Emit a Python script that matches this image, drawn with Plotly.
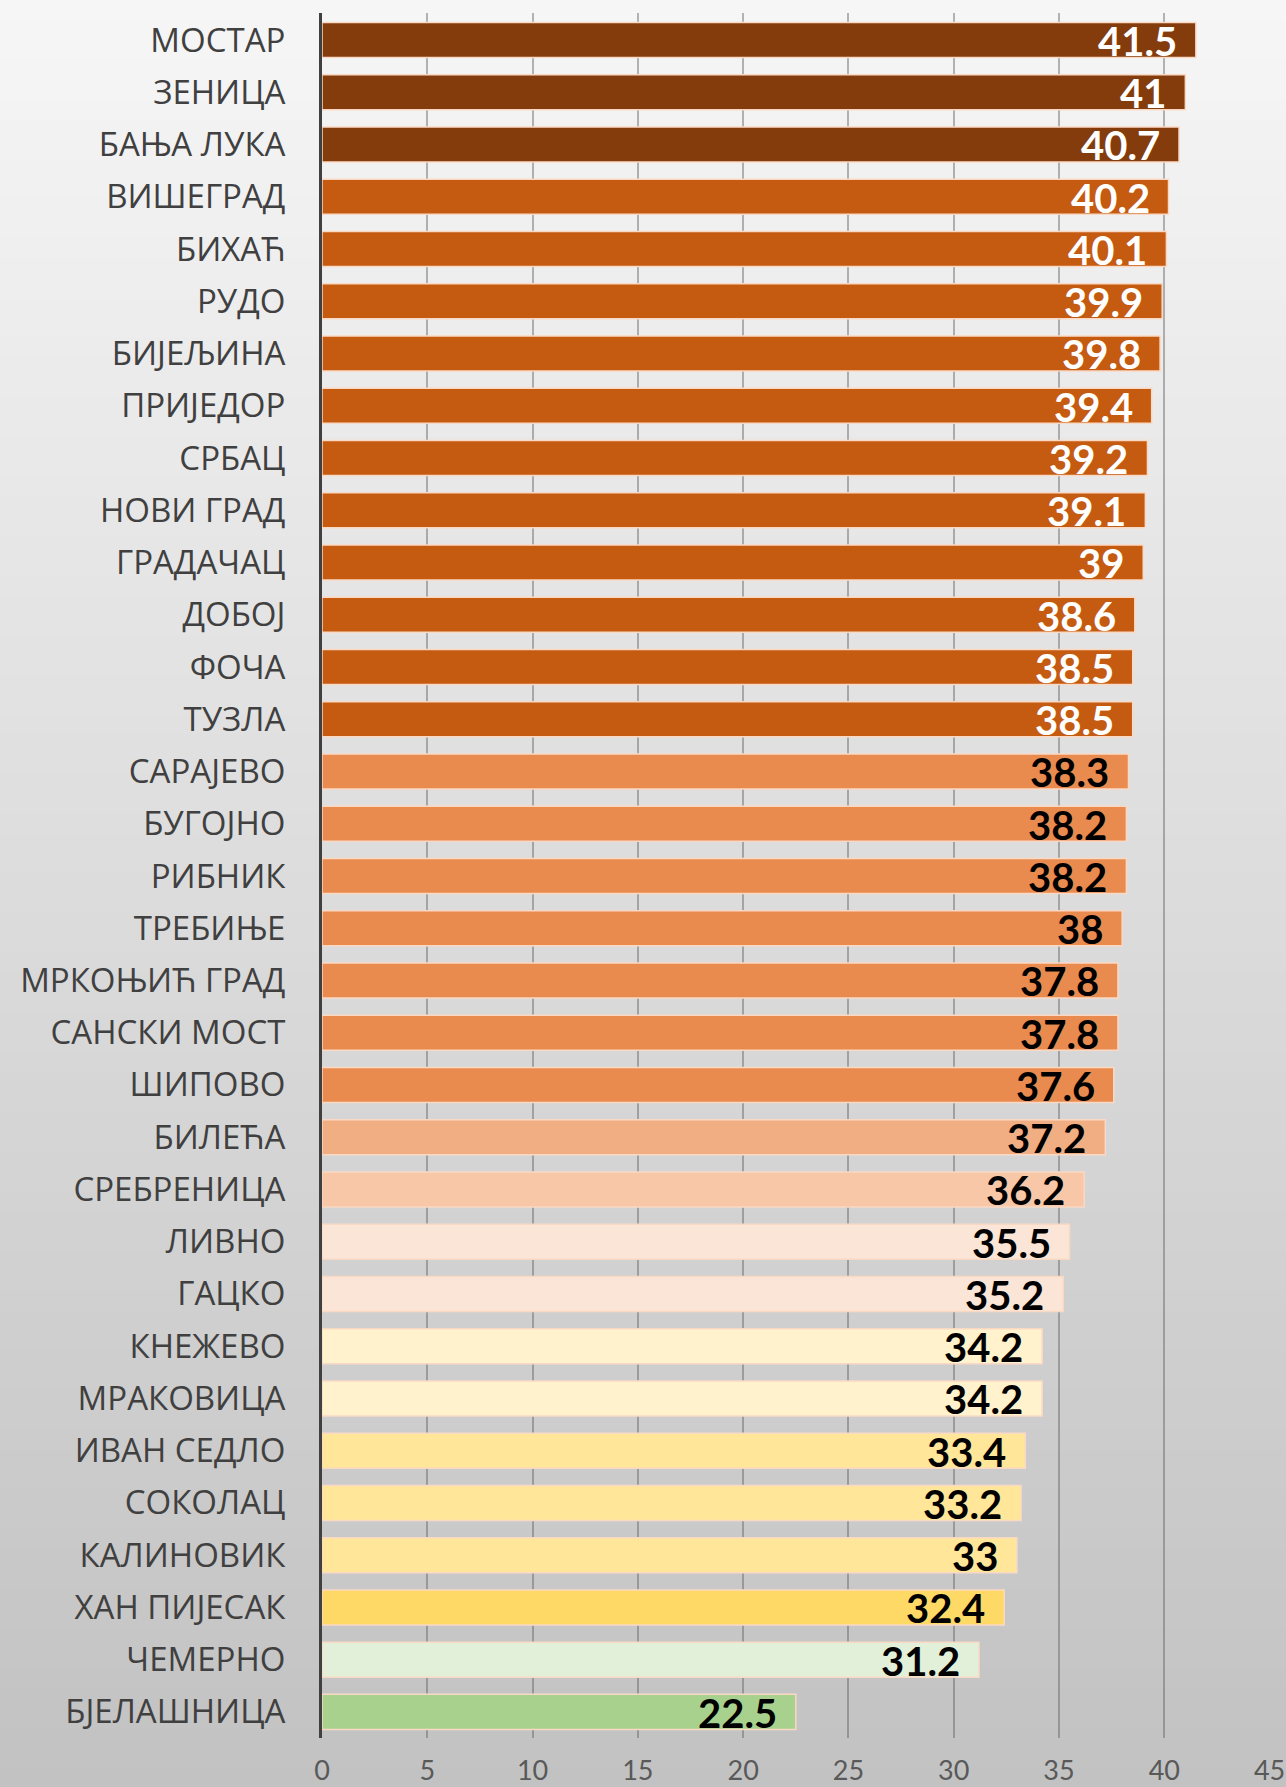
import plotly.graph_objects as go

# ---- data ----
cities = ["МОСТАР", "ЗЕНИЦА", "БАЊА ЛУКА", "ВИШЕГРАД", "БИХАЋ", "РУДО", "БИЈЕЉИНА",
          "ПРИЈЕДОР", "СРБАЦ", "НОВИ ГРАД", "ГРАДАЧАЦ", "ДОБОЈ", "ФОЧА", "ТУЗЛА",
          "САРАЈЕВО", "БУГОЈНО", "РИБНИК", "ТРЕБИЊЕ", "МРКОЊИЋ ГРАД", "САНСКИ МОСТ",
          "ШИПОВО", "БИЛЕЋА", "СРЕБРЕНИЦА", "ЛИВНО", "ГАЦКО", "КНЕЖЕВО", "МРАКОВИЦА",
          "ИВАН СЕДЛО", "СОКОЛАЦ", "КАЛИНОВИК", "ХАН ПИЈЕСАК", "ЧЕМЕРНО", "БЈЕЛАШНИЦА"]
values = [41.5, 41, 40.7, 40.2, 40.1, 39.9, 39.8, 39.4, 39.2, 39.1, 39, 38.6, 38.5, 38.5,
          38.3, 38.2, 38.2, 38, 37.8, 37.8, 37.6, 37.2, 36.2, 35.5, 35.2, 34.2, 34.2,
          33.4, 33.2, 33, 32.4, 31.2, 22.5]
x_ticks = [0, 5, 10, 15, 20, 25, 30, 35, 40, 45]

# ---- styles ----
palette = (["#843C0C"] * 3 + ["#C55A11"] * 11 + ["#E98B4F"] * 7 + ["#F2AE83", "#F7C7A8"]
           + ["#FBE5D6"] * 2 + ["#FFF2CC"] * 2 + ["#FFE699"] * 3 + ["#FFD966", "#E2F0D9", "#A9D18E"])
text_colors = ["white"] * 14 + ["black"] * 19

W, H = 1286, 1787
ML, MR, MT, MB = 322, 16, 13, 49
PW, PH = W - ML - MR, H - MT - MB

fig = go.Figure()
fig.add_trace(go.Bar(
    x=values, y=cities, orientation="h",
    marker=dict(color=palette, line=dict(color="#FAD9C4", width=1.5)),
    hoverinfo="x+y",
))

annotations = []
for c, v, tc in zip(cities, values, text_colors):
    annotations.append(dict(
        x=v, y=c, xref="x", yref="y", text=f"{v:g}", showarrow=False,
        xanchor="right", yanchor="middle", xshift=-17, yshift=-1,
        font=dict(family="Lato", size=40, color=tc, weight="bold"),
    ))

# vertical background gradient
shapes = []
n = 90
top_c, bot_c = (246, 246, 246), (194, 194, 194)
for i in range(n):
    t = i / (n - 1)
    col = tuple(round(top_c[k] + (bot_c[k] - top_c[k]) * t) for k in range(3))
    y0px = H * i / n
    y1px = H * (i + 1) / n + 1
    shapes.append(dict(
        type="rect", xref="paper", yref="paper", layer="below",
        x0=-ML / PW - 0.01, x1=(W - ML) / PW + 0.01,
        y0=(H - y1px - MB) / PH, y1=(H - y0px - MB) / PH,
        fillcolor="rgb(%d,%d,%d)" % col, line=dict(width=0),
    ))

fig.update_layout(
    width=W, height=H, autosize=False,
    margin=dict(l=ML, r=MR, t=MT, b=MB, pad=0, autoexpand=False),
    paper_bgcolor="#C8C8C8", plot_bgcolor="rgba(0,0,0,0)",
    bargap=0.33, showlegend=False,
    annotations=annotations, shapes=shapes,
    xaxis=dict(range=[0, 45.02], tickvals=x_ticks, showgrid=True,
               gridcolor="rgba(95,95,95,0.45)", gridwidth=1.5,
               zeroline=False, showline=False, ticks="", automargin=False,
               ticklabeloverflow="allow",
               tickfont=dict(family="Lato", size=27, color="#595959"),
               ticklabelstandoff=14, fixedrange=True),
    yaxis=dict(autorange="reversed", showline=True, linecolor="#404040", linewidth=3,
               showgrid=False, ticks="", automargin=False,
               tickfont=dict(family="Open Sans", size=33, color="#404040"),
               ticklabelstandoff=27, fixedrange=True),
)

fig.write_html("out.html", config={"displayModeBar": False},
               post_script="document.documentElement.style.overflow='hidden';"
                           "document.body.style.margin='0';document.body.style.overflow='hidden';")
